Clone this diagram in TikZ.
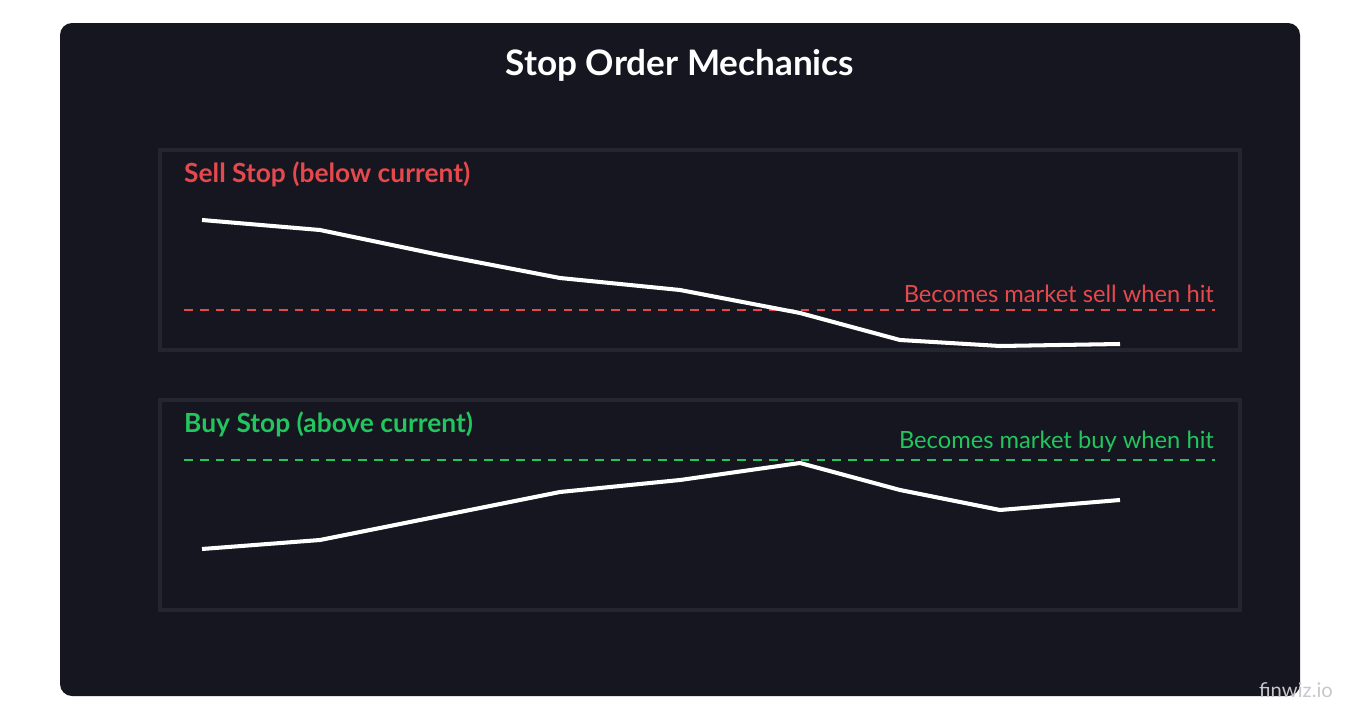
\documentclass[tikz,border=0pt]{standalone}
\usepackage{fontspec}
\setmainfont{Lato}
\definecolor{bgpanel}{HTML}{15161F}
\definecolor{boxline}{HTML}{23252F}
\definecolor{sellred}{HTML}{E5484D}
\definecolor{buygreen}{HTML}{22C55E}
\definecolor{markgray}{HTML}{C8C8CC}
\tikzset{
  panelbox/.style={draw=boxline, line width=2.5pt, fill=bgpanel},
  price/.style={draw=white, line width=2.3pt, line join=round},
  trigger/.style={dashed, line width=1.2pt, dash pattern=on 5pt off 4pt},
  heading/.style={anchor=west, font=\fontsize{15}{17}\selectfont\bfseries},
  hitlabel/.style={anchor=south east, font=\fontsize{13.5}{15}\selectfont, inner sep=1pt}
}
\begin{document}
\begin{tikzpicture}[x=0.02cm, y=-0.02cm]
  \fill[white] (0,0) rectangle (1360,720);
  \useasboundingbox (0,0) rectangle (1360,720);
  \fill[bgpanel, rounded corners=0.24cm] (60,23) rectangle (1300,696);
  \node[text=white, font=\fontsize{20}{23}\selectfont\bfseries] (title) at (680,65) {Stop Order Mechanics};

  % sell stop
  \draw[panelbox] (160,150) rectangle (1240,350);
  \node[heading, text=sellred] (sellhead) at (178,174) {Sell Stop (below current)};
  \coordinate (sellA) at (184,310);
  \coordinate (sellB) at (1215,310);
  \draw[trigger, sellred] (sellA) -- (sellB);
  \node[hitlabel, text=sellred] (selltxt) at (1216,305) {Becomes market sell when hit};
  \draw[price] plot coordinates {(202,220) (320,230) (440,255) (560,278) (680,290) (800,313) (900,340) (1000,346) (1120,344)};

  % buy stop
  \draw[panelbox] (160,400) rectangle (1240,610);
  \node[heading, text=buygreen] (buyhead) at (178,424) {Buy Stop (above current)};
  \coordinate (buyA) at (184,460);
  \coordinate (buyB) at (1215,460);
  \draw[trigger, buygreen] (buyA) -- (buyB);
  \node[hitlabel, text=buygreen] (buytxt) at (1216,455) {Becomes market buy when hit};
  \draw[price] plot coordinates {(202,549) (320,540) (440,516) (560,492) (680,480) (800,463) (900,490) (1000,510) (1120,500)};

  \node[text=markgray, font=\fontsize{11.5}{13}\selectfont] (mark) at (1296,690) {finwiz.io};
\end{tikzpicture}
\end{document}
